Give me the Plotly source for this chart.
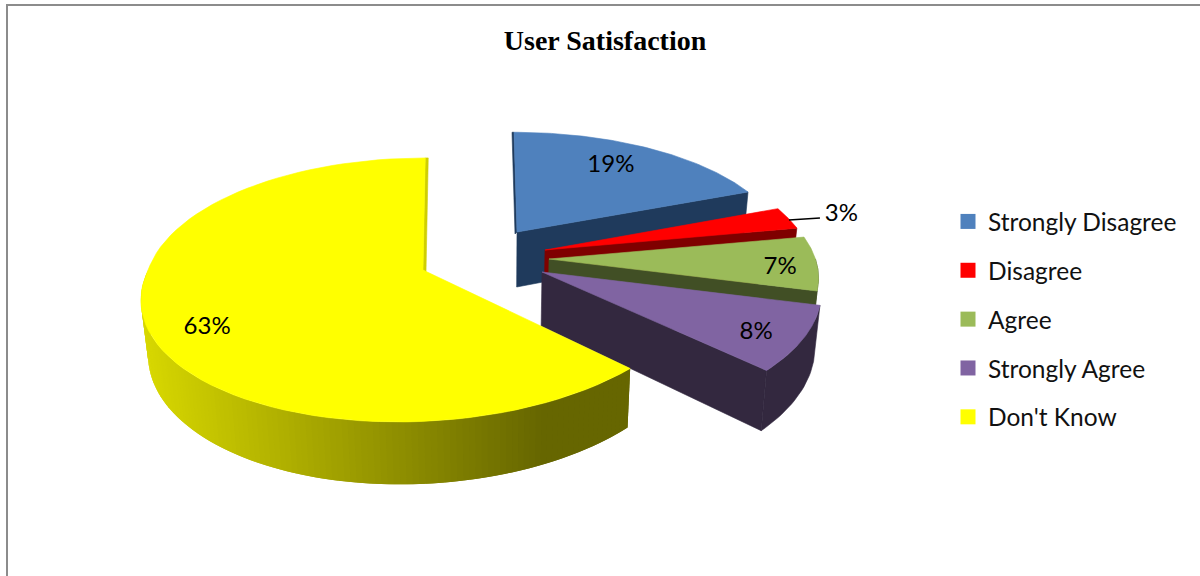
import math
import plotly.graph_objects as go

categories = ["Strongly Disagree", "Disagree", "Agree", "Strongly Agree", "Don't Know"]
values = [19, 3, 7, 8, 63]
labels = ["19%", "3%", "7%", "8%", "63%"]

top_colors = ["#4f81bd", "#ff0000", "#9bbb59", "#8064a2", "#ffff00"]
side_colors = ["#1f3a5c", "#7f0000", "#414f25", "#33283f", "#cfcf00"]

# Perspective model of the exploded pie, one entry per slice
APEX_X = [517, 545, 549, 542, 423]
APEX_Y = [232, 250, 259, 272, 270]
SCALE_X = [0.945, 0.945, 0.955, 0.99, 0.985]
SCALE_Y = [0.89, 0.93, 0.96, 1.0, 1.0]
SHEAR_BACK = [0.03, 0, 0, 0, -0.02]
SHEAR_FRONT = [0, 0, 0, 0, -0.165]
STRIP = [-2, 0, 0, 0, 3]
DEPTH = [55, 54, 54, 54, 53]
LABEL_FRAC = [0.75, 1.22, 0.86, 0.82, 0.8]
LABEL_NUDGE = [(-3, -3), (0, 4), (1, 6), (0, 6), (6, 14)]
R_X, R_Y, PERSP, BOTTOM_SHRINK, VANISH_X = 279, 129, 0.151, 0.98, 500


def project(i, theta, frac=1.0, depth=False):
    t = math.radians(theta)
    u, v = math.sin(t) * frac, math.cos(t) * frac
    w = 1 + PERSP * v
    dx = SCALE_X[i] * R_X * u / w
    dy = -SCALE_Y[i] * R_Y * v / w
    dx += (SHEAR_FRONT[i] if dy > 0 else SHEAR_BACK[i]) * dy
    x, y = APEX_X[i] + dx, APEX_Y[i] + dy
    if depth:
        y += DEPTH[i] / w
        x = VANISH_X + (x - VANISH_X) * BOTTOM_SHRINK
    return x, y


def arc(i, a, b, n=80, frac=1.0, depth=False):
    return [project(i, a + (b - a) * k / n, frac, depth) for k in range(n + 1)]


def poly(pts, color, lw=0.6):
    xs = [p[0] for p in pts] + [pts[0][0]]
    ys = [p[1] for p in pts] + [pts[0][1]]
    return go.Scatter(x=xs, y=ys, mode="lines", fill="toself", fillcolor=color,
                      line=dict(color=color, width=lw), hoverinfo="skip", showlegend=False)


def wall_color(x):
    t = min(1, max(0, (x - 145) / (545 - 145)))
    c = round(215 + (102 - 215) * t)
    return f"rgb({c},{c},0)"


fig = go.Figure()
angles = []
acc = 0
total = sum(values)
for val in values:
    angles.append((acc, acc + 360 * val / total))
    acc += 360 * val / total

for i, (a, b) in enumerate(angles):
    ax, ay = APEX_X[i], APEX_Y[i]
    apex_b = (VANISH_X + (ax - VANISH_X) * BOTTOM_SHRINK, ay + DEPTH[i])
    # thin side strip at the 12 o'clock edge (blue start, yellow end)
    if STRIP[i]:
        rim = project(i, a if i == 0 else b)
        fig.add_trace(poly([(ax, ay), rim, (rim[0] + STRIP[i], rim[1]), (ax + STRIP[i], ay + 2)],
                           side_colors[i]))
    # radial end face
    if i != 4:
        fig.add_trace(poly([(ax, ay), project(i, b), project(i, b, depth=True), apex_b], side_colors[i]))
    # outer wall, only the front part
    lo, hi = max(a, 90), min(b, 270)
    if hi > lo:
        if i == 4:
            # gradient built from overlapping bands, drawn from the far end so no seams show
            n = 120
            step = (hi - lo) / n
            for k in range(n):
                t0 = max(hi - step * (k + 2), lo)
                t1 = hi - step * k
                p0, p1 = project(i, t0), project(i, t1)
                fig.add_trace(poly([p0, p1, project(i, t1, depth=True), project(i, t0, depth=True)],
                                   wall_color((p0[0] + p1[0]) / 2), lw=0))
        else:
            fig.add_trace(poly(arc(i, lo, hi, 20) + arc(i, hi, lo, 20, depth=True), side_colors[i]))
    # top face
    fig.add_trace(poly([(ax, ay)] + arc(i, a, b), top_colors[i]))

# leader line of the small slice
rim = project(1, sum(angles[1]) / 2)
fig.add_trace(go.Scatter(x=[rim[0] + 1, rim[0] + 32], y=[rim[1] + 2, rim[1]], mode="lines",
                         line=dict(color="black", width=1.5), hoverinfo="skip", showlegend=False))

# percentage labels
lx, ly = [], []
for i, (a, b) in enumerate(angles):
    rx, ry = project(i, (a + b) / 2)
    ax, ay = APEX_X[i], APEX_Y[i]
    lx.append(ax + (rx - ax) * LABEL_FRAC[i] + LABEL_NUDGE[i][0])
    ly.append(ay + (ry - ay) * LABEL_FRAC[i] + LABEL_NUDGE[i][1])
fig.add_trace(go.Scatter(x=lx, y=ly, text=labels, mode="text", textposition="middle center",
                         textfont=dict(family="Lato", size=24, color="black"),
                         hoverinfo="skip", showlegend=False))

# legend entries
for name, color in zip(categories, top_colors):
    fig.add_trace(go.Scatter(x=[None], y=[None], mode="markers", name=name, legendgroup=name,
                             marker=dict(symbol="square", size=15, color=color)))

fig.update_layout(
    width=1200, height=576, margin=dict(l=0, r=0, t=0, b=0),
    paper_bgcolor="white", plot_bgcolor="white",
    xaxis=dict(range=[0, 1200], visible=False, fixedrange=True),
    yaxis=dict(range=[576, 0], visible=False, fixedrange=True),
    title=dict(text="<b>User Satisfaction</b>", x=605 / 1200, xanchor="center",
               y=1 - 40 / 576, yanchor="middle",
               font=dict(family="Liberation Serif", size=28, color="black")),
    legend=dict(x=948 / 1200, xanchor="left", y=1 - 199 / 576, yanchor="top",
                font=dict(family="Lato", size=24.5, color="#111111"),
                tracegroupgap=14, itemclick=False, itemdoubleclick=False,
                bgcolor="rgba(0,0,0,0)"),
    shapes=[dict(type="rect", xref="x", yref="y", x0=7, y0=5, x1=1260, y1=640,
                 line=dict(color="#8c8c8c", width=2), layer="below")],
)

fig.write_html("out.html", config=dict(displayModeBar=False),
               post_script="document.body.style.margin='0';")
